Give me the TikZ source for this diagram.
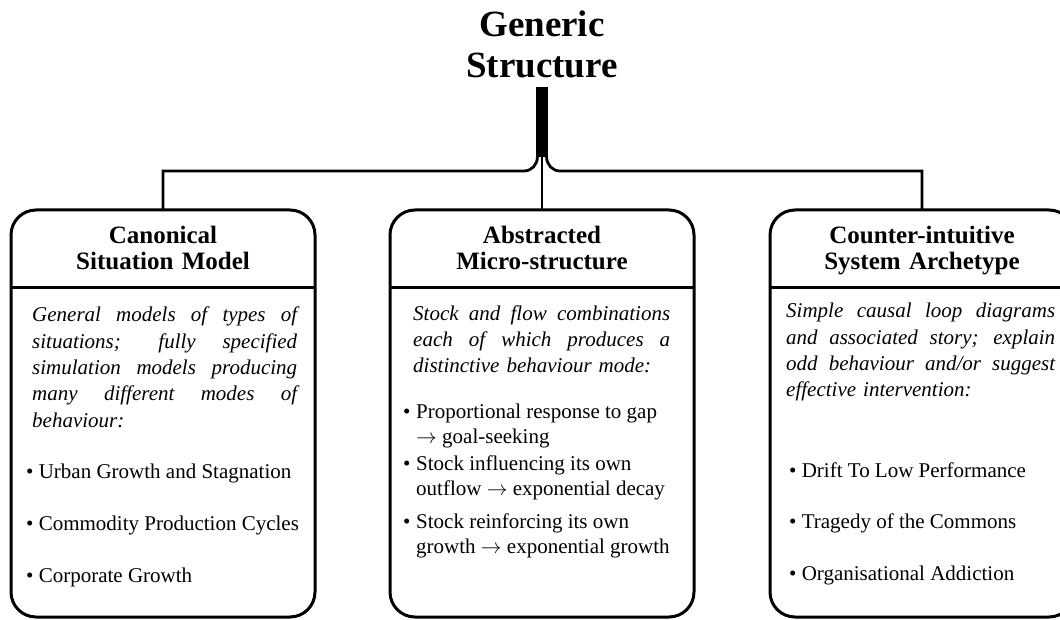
\documentclass[tikz,border=0pt]{standalone}
\usepackage{fontspec}
\setmainfont{Liberation Serif}
% a justified line of a fixed width \jw: the word spaces share the slack
\newcommand\jw{265pt}
\newcommand\jline[1]{\makebox[\jw][s]{\spaceskip=0.25em plus 1fil\relax #1}}
\newcommand\hang{\makebox[13pt][l]{•}}
\newcommand\lto{\ensuremath{\rightarrow}}
\begin{document}
\begin{tikzpicture}[x=1pt,y=-1pt,
  conn/.style={line width=2.8pt},
  panel/.style={draw, line width=3pt, rounded corners=25pt, minimum width=304pt,
    minimum height=407pt, inner sep=0pt, outer sep=0pt},
  heading/.style={font=\bfseries\fontsize{37}{41}\selectfont, text width=300pt,
    align=center, inner sep=0pt, anchor=base},
  panelhead/.style={font=\bfseries\fontsize{25}{26}\selectfont, text width=300pt,
    align=center, inner sep=0pt, anchor=base},
  desc/.style={font=\itshape\fontsize{21}{26.3}\selectfont, align=left,
    inner sep=0pt, anchor=base west},
  entry/.style={font=\fontsize{21}{25}\selectfont, align=left,
    inner sep=0pt, anchor=base west}]
\useasboundingbox (0,0) rectangle (1060,620);
\clip (0,0) rectangle (1060,620);

% title and the fork beneath it
\node[heading] (title) at (542,37) {Generic\\Structure};
\coordinate (bartop) at (542,87);
\coordinate (fork) at (542,157);
\coordinate (bus) at (542,171);

% the three panels
\node[panel] (canon) at (163,413.5) {};
\node[panel] (micro) at (542,413.5) {};
\node[panel] (arch) at (922,413.5) {};

\draw[line width=12pt] (bartop) -- (fork);
\draw[conn] ([xshift=-4.6pt]fork) to[out=-90,in=0] ([xshift=-18pt]bus)
  -- (bus -| canon.north) -- (canon.north);
\draw[conn] ([xshift=4.6pt]fork) to[out=-90,in=180] ([xshift=18pt]bus)
  -- (bus -| arch.north) -- (arch.north);
\draw[conn] (fork) -- (micro.north);

% dividers under the panel headings
\coordinate (rule) at (0,288);
\draw[line width=3pt] (canon.west |- rule) -- (canon.east |- rule);
\draw[line width=3pt] (micro.west |- rule) -- (micro.east |- rule);
\draw[line width=3pt] (arch.west |- rule) -- (arch.east |- rule);

% panel headings
\node[panelhead] (canonhead) at (163,244) {Canonical\\Situation Model};
\node[panelhead] (microhead) at (542,244) {Abstracted\\Micro-structure};
\node[panelhead] (archhead) at (922,244) {Counter-intuitive\\System Archetype};

% Canonical Situation Model
\node[desc, text width=265pt] (canondesc) at (32,322) {%
  \renewcommand\jw{265pt}%
  \jline{General models of types of}\\
  \jline{situations; fully specified}\\
  \jline{simulation models producing}\\
  \jline{many different modes of}\\
  behaviour:};
\node[entry] (canon1) at (26,478) {• Urban Growth and Stagnation};
\node[entry] (canon2) at (26,530) {• Commodity Production Cycles};
\node[entry] (canon3) at (26,582) {• Corporate Growth};

% Abstracted Micro-structure
\node[desc, text width=257pt] (microdesc) at (413,320) {%
  \renewcommand\jw{257pt}%
  \jline{Stock and flow combinations}\\
  \jline{each of which produces a}\\
  distinctive behaviour mode:};
\node[entry] (micro1) at (403,443) {\hang Proportional response to gap\\\hspace*{13pt}\lto{} goal-seeking};
\node[entry] (micro2) at (403,495) {\hang Stock influencing its own\\\hspace*{13pt}outflow \lto{} exponential decay};
\node[entry] (micro3) at (403,553) {\hang Stock reinforcing its own\\\hspace*{13pt}growth \lto{} exponential growth};

% Counter-intuitive System Archetype
\node[desc, text width=269pt] (archdesc) at (786,318) {%
  \renewcommand\jw{269pt}%
  \jline{Simple causal loop diagrams}\\
  \jline{and associated story; explain}\\
  \jline{odd behaviour and/or suggest}\\
  effective intervention:};
\node[entry] (arch1) at (789,477) {• Drift To Low Performance};
\node[entry] (arch2) at (789,528) {• Tragedy of the Commons};
\node[entry] (arch3) at (789,580) {• Organisational Addiction};
\end{tikzpicture}
\end{document}
